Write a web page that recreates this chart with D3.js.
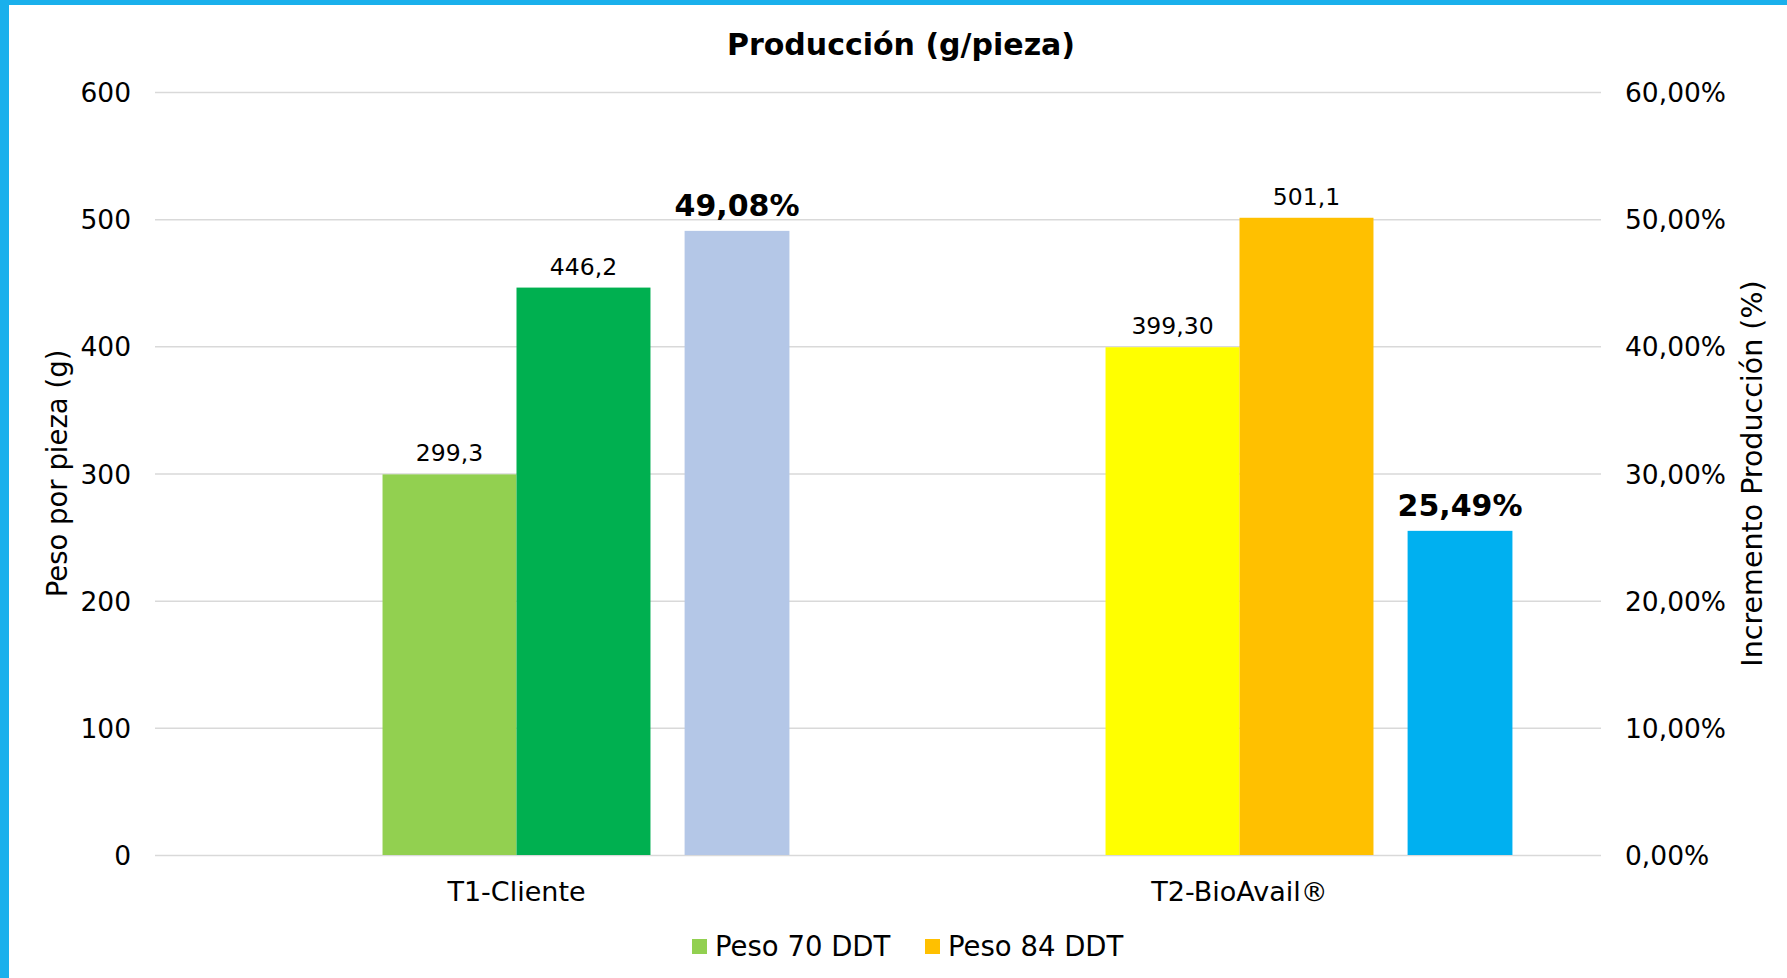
<!DOCTYPE html>
<html>
<head>
<meta charset="utf-8">
<script src="https://cdnjs.cloudflare.com/ajax/libs/d3/7.8.5/d3.min.js"></script>
<style>
  body { margin: 0; background: #fff; }
  svg text { font-family: "DejaVu Sans", sans-serif; fill: #000; }
</style>
</head>
<body>
<script>
// data
var categories = ["T1-Cliente", "T2-BioAvail®"]
var seriesNames = ["Peso 70 DDT", "Peso 84 DDT"]
var peso70 = [299.3, 399.3]
var peso84 = [446.2, 501.1]
var peso70Labels = ["299,3", "399,30"]
var peso84Labels = ["446,2", "501,1"]
var incremento = [0.4908, 0.2549]
var leftTicks = [0, 100, 200, 300, 400, 500, 600]
var rightTicks = [0, 0.1, 0.2, 0.3, 0.4, 0.5, 0.6]

// colours per category (each point is coloured on its own)
var colors70 = ["#92D050", "#FFFF00"]
var colors84 = ["#00B050", "#FFC000"]
var colorsInc = ["#B4C7E7", "#00B0F0"]
var legendColors = ["#92D050", "#FFC000"]

var width = 1787
    height = 978
var margin = {top: 92, right: 186, bottom: 123, left: 155}

var svg = d3.select("body")
  .append("svg")
    .attr("width", width)
    .attr("height", height)

// blue frame on the left and top
svg.append("rect").attr("x", 0).attr("y", 0).attr("width", width).attr("height", 5).attr("fill", "#1AB0EC")
svg.append("rect").attr("x", 0).attr("y", 0).attr("width", 9).attr("height", height).attr("fill", "#1AB0EC")

var x = d3.scaleBand()
  .domain(categories)
  .range([margin.left, width - margin.right])
  .padding(0)

var y = d3.scaleLinear()
  .domain([0, 600])
  .range([height - margin.bottom, margin.top])

var y2 = d3.scaleLinear()
  .domain([0, 0.6])
  .range([height - margin.bottom, margin.top])

var locale = d3.formatLocale({decimal: ",", thousands: ".", grouping: [3], currency: ["", "€"]})
var pct = locale.format(".2%")

// gridlines + left axis
var gLeft = svg.append("g")
  .attr("transform", "translate(" + margin.left + ",0)")
  .call(d3.axisLeft(y).tickValues(leftTicks).tickSize(-(width - margin.left - margin.right)).tickPadding(24))
gLeft.select(".domain").remove()
gLeft.selectAll(".tick line").attr("stroke", "#D9D9D9").attr("stroke-width", 1.5)
gLeft.selectAll(".tick text").style("font-size", "26.5px").attr("dy", "0.36em")

// right axis (labels only)
var gRight = svg.append("g")
  .attr("transform", "translate(" + (width - margin.right) + ",0)")
  .call(d3.axisRight(y2).tickValues(rightTicks).tickFormat(pct).tickSize(0).tickPadding(24))
gRight.select(".domain").remove()
gRight.selectAll(".tick text").style("font-size", "26.5px").attr("dy", "0.36em")

// bar geometry as fractions of the category band
var bw = x.bandwidth()
var barW = bw * 0.1853
var incW = bw * 0.145
var incOffset = bw * 0.305

function cx(d, i) { return x(categories[i]) + bw / 2 }

// Peso 70 DDT
svg.append("g").selectAll("rect")
  .data(peso70)
  .enter()
  .append("rect")
    .attr("x", function(d, i) { return cx(d, i) - barW })
    .attr("y", function(d) { return y(d) })
    .attr("width", barW)
    .attr("height", function(d) { return y(0) - y(d) })
    .attr("fill", function(d, i) { return colors70[i] })

// Peso 84 DDT
svg.append("g").selectAll("rect")
  .data(peso84)
  .enter()
  .append("rect")
    .attr("x", function(d, i) { return cx(d, i) })
    .attr("y", function(d) { return y(d) })
    .attr("width", barW)
    .attr("height", function(d) { return y(0) - y(d) })
    .attr("fill", function(d, i) { return colors84[i] })

// Incremento (secondary axis)
svg.append("g").selectAll("rect")
  .data(incremento)
  .enter()
  .append("rect")
    .attr("x", function(d, i) { return cx(d, i) + incOffset - incW / 2 })
    .attr("y", function(d) { return y2(d) })
    .attr("width", incW)
    .attr("height", function(d) { return y2(0) - y2(d) })
    .attr("fill", function(d, i) { return colorsInc[i] })

// data labels
svg.append("g").selectAll("text")
  .data(peso70)
  .enter()
  .append("text")
    .attr("x", function(d, i) { return cx(d, i) - barW / 2 })
    .attr("y", function(d) { return y(d) - 13 })
    .attr("text-anchor", "middle")
    .style("font-size", "23.5px")
    .text(function(d, i) { return peso70Labels[i] })

svg.append("g").selectAll("text")
  .data(peso84)
  .enter()
  .append("text")
    .attr("x", function(d, i) { return cx(d, i) + barW / 2 })
    .attr("y", function(d) { return y(d) - 13 })
    .attr("text-anchor", "middle")
    .style("font-size", "23.5px")
    .text(function(d, i) { return peso84Labels[i] })

svg.append("g").selectAll("text")
  .data(incremento)
  .enter()
  .append("text")
    .attr("x", function(d, i) { return cx(d, i) + incOffset })
    .attr("y", function(d) { return y2(d) - 15 })
    .attr("text-anchor", "middle")
    .style("font-size", "30px")
    .style("font-weight", "bold")
    .text(function(d) { return pct(d) })

// category labels
svg.append("g").selectAll("text")
  .data(categories)
  .enter()
  .append("text")
    .attr("x", function(d) { return x(d) + bw / 2 })
    .attr("y", 901)
    .attr("text-anchor", "middle")
    .style("font-size", "27px")
    .text(function(d) { return d })

// title
svg.append("text")
  .attr("x", 901)
  .attr("y", 55)
  .attr("text-anchor", "middle")
  .style("font-size", "30px")
  .style("font-weight", "bold")
  .text("Producción (g/pieza)")

// axis titles
svg.append("text")
  .attr("transform", "translate(57," + (y(300)) + ") rotate(-90)")
  .attr("text-anchor", "middle")
  .attr("dy", "0.35em")
  .style("font-size", "27.5px")
  .text("Peso por pieza (g)")

svg.append("text")
  .attr("transform", "translate(1752," + (y(300)) + ") rotate(-90)")
  .attr("text-anchor", "middle")
  .attr("dy", "0.35em")
  .style("font-size", "28.5px")
  .text("Incremento Producción (%)")

// legend
var legend = svg.append("g")
var legendX = [692, 925]
seriesNames.forEach(function(name, i) {
  legend.append("rect")
    .attr("x", legendX[i])
    .attr("y", 939)
    .attr("width", 15)
    .attr("height", 15)
    .attr("fill", legendColors[i])
  legend.append("text")
    .attr("x", legendX[i] + 23)
    .attr("y", 956)
    .style("font-size", "27.5px")
    .text(name)
})
</script>
</body>
</html>
